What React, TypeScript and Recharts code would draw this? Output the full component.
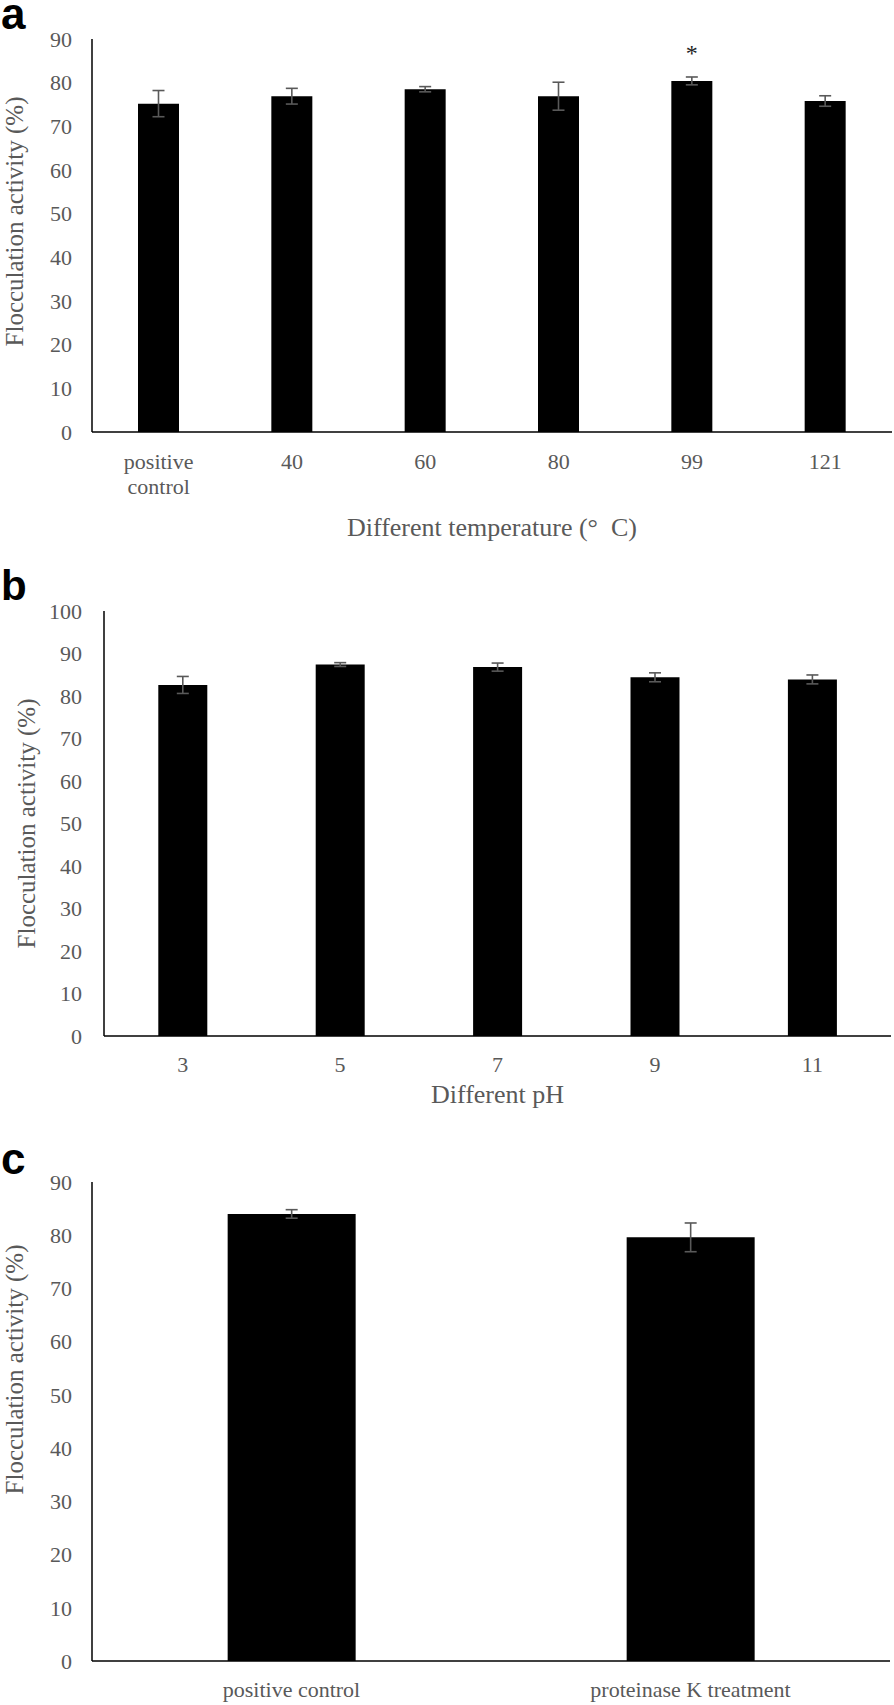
import React from 'react';
import { BarChart, Bar, XAxis, YAxis, ErrorBar, LabelList } from 'recharts';

// ---------- data ----------
const tempCategories = ['positive control', '40', '60', '80', '99', '121'];
const tempValues = [75.2, 76.9, 78.5, 76.9, 80.4, 75.8];
const tempErrors = [3.0, 1.8, 0.6, 3.2, 0.9, 1.2];
const tempSig = ['', '', '', '', '*', ''];
const tempTicks = [0, 10, 20, 30, 40, 50, 60, 70, 80, 90];

const phCategories = ['3', '5', '7', '9', '11'];
const phValues = [82.6, 87.4, 86.8, 84.4, 83.9];
const phErrors = [2.0, 0.45, 0.95, 1.05, 1.05];
const phTicks = [0, 10, 20, 30, 40, 50, 60, 70, 80, 90, 100];

const treatCategories = ['positive control', 'proteinase K treatment'];
const treatValues = [84.0, 79.6];
const treatErrors = [0.8, 2.7];
const treatTicks = [0, 10, 20, 30, 40, 50, 60, 70, 80, 90];

const yTitle = 'Flocculation activity (%)';
const tempTitle = 'Different temperature (\u00B0\u00A0\u00A0C)';
const phTitle = 'Different pH';

const tempData = tempCategories.map((c, i) => ({ cat: c, value: tempValues[i], err: tempErrors[i], sig: tempSig[i] }));
const phData = phCategories.map((c, i) => ({ cat: c, value: phValues[i], err: phErrors[i] }));
const treatData = treatCategories.map((c, i) => ({ cat: c, value: treatValues[i], err: treatErrors[i] }));

// ---------- styles ----------
const SERIF = '"Liberation Serif", "Times New Roman", serif';
const TEXT = '#595959';
const TICK_FS = 22;
const TITLE_FS = 25;

const yTickStyle = { fill: TEXT, fontSize: TICK_FS, fontFamily: SERIF };

const makeXTick = (multiLine: boolean, dy: number) => (props: any) => {
  const { x, y, payload } = props;
  const lines = multiLine ? String(payload.value).split(' ') : [String(payload.value)];
  return (
    <text x={x} y={y + dy} textAnchor="middle" fill={TEXT} fontSize={TICK_FS} fontFamily={SERIF}>
      {lines.map((l, i) => (
        <tspan key={i} x={x} dy={i === 0 ? 0 : 25}>{l}</tspan>
      ))}
    </text>
  );
};

// cx: horizontal centre of the rotated title; shift: offset of its centre from the plot's centre
const makeYTitle = (cx: number, shift: number) => (props: any) => {
  const vb = props.viewBox;
  const cy = vb.y + vb.height / 2 + shift;
  return (
    <text
      x={cx}
      y={cy}
      transform={`rotate(-90, ${cx}, ${cy})`}
      textAnchor="middle"
      dominantBaseline="central"
      fill={TEXT}
      fontSize={TITLE_FS}
      fontFamily={SERIF}
    >
      {yTitle}
    </text>
  );
};

const makeXTitle = (text: string, dy: number, fs: number) => (props: any) => {
  const vb = props.viewBox;
  return (
    <text x={vb.x + vb.width / 2} y={vb.y + dy} textAnchor="middle" fill={TEXT} fontSize={fs} fontFamily={SERIF}>
      {text}
    </text>
  );
};

const sigLabel = (props: any) => {
  const { x, y, width, value } = props;
  if (!value) return null;
  return (
    <text x={x + width / 2} y={y - 20} textAnchor="middle" fill="#222" fontSize={24} fontFamily={SERIF}>
      {value}
    </text>
  );
};

const axisLine = { stroke: '#000', strokeWidth: 1.5 };

export default function App() {
  return (
    <div style={{ position: 'absolute', left: 0, top: 0, width: 894, height: 1705, overflow: 'hidden', background: '#fff' }}>
      {/* panel a */}
      <div style={{ position: 'absolute', left: 0, top: 0 }}>
        <BarChart width={894} height={560} data={tempData} margin={{ top: 39, right: 2, bottom: 0, left: 0 }} barCategoryGap="34.5%">
          <XAxis
            dataKey="cat"
            height={128}
            axisLine={axisLine}
            tickLine={false}
            tickSize={0}
            tickMargin={0}
            interval={0}
            tick={makeXTick(true, 37)}
            label={makeXTitle(tempTitle, 104, 26)}
          />
          <YAxis
            width={92}
            domain={[0, 90]}
            ticks={tempTicks}
            axisLine={axisLine}
            tickLine={false}
            tickSize={0}
            tickMargin={20}
            tick={yTickStyle}
            label={makeYTitle(14, -14)}
          />
          <Bar dataKey="value" fill="#000" isAnimationActive={false}>
            <ErrorBar dataKey="err" width={6} stroke="#595959" strokeWidth={1.6} direction="y" />
            <LabelList dataKey="sig" content={sigLabel} />
          </Bar>
        </BarChart>
      </div>

      {/* panel b */}
      <div style={{ position: 'absolute', left: 0, top: 560 }}>
        <BarChart width={894} height={560} data={phData} margin={{ top: 51, right: 3, bottom: 0, left: 0 }} barCategoryGap="34.5%">
          <XAxis
            dataKey="cat"
            height={84}
            axisLine={axisLine}
            tickLine={false}
            tickSize={0}
            tickMargin={0}
            interval={0}
            tick={makeXTick(false, 36)}
            label={makeXTitle(phTitle, 67, 26)}
          />
          <YAxis
            width={104}
            domain={[0, 100]}
            ticks={phTicks}
            axisLine={axisLine}
            tickLine={false}
            tickSize={0}
            tickMargin={22}
            tick={yTickStyle}
            label={makeYTitle(26, 0)}
          />
          <Bar dataKey="value" fill="#000" isAnimationActive={false}>
            <ErrorBar dataKey="err" width={6} stroke="#595959" strokeWidth={1.6} direction="y" />
          </Bar>
        </BarChart>
      </div>

      {/* panel c */}
      <div style={{ position: 'absolute', left: 0, top: 1120 }}>
        <BarChart width={894} height={585} data={treatData} margin={{ top: 62, right: 4, bottom: 0, left: 0 }} barCategoryGap="34%">
          <XAxis
            dataKey="cat"
            height={44}
            axisLine={axisLine}
            tickLine={false}
            tickSize={0}
            tickMargin={0}
            interval={0}
            tick={makeXTick(false, 36)}
          />
          <YAxis
            width={92}
            domain={[0, 90]}
            ticks={treatTicks}
            axisLine={axisLine}
            tickLine={false}
            tickSize={0}
            tickMargin={20}
            tick={yTickStyle}
            label={makeYTitle(14, -52)}
          />
          <Bar dataKey="value" fill="#000" isAnimationActive={false}>
            <ErrorBar dataKey="err" width={6} stroke="#595959" strokeWidth={1.6} direction="y" />
          </Bar>
        </BarChart>
      </div>

      {/* panel letters */}
      <svg width={894} height={1705} style={{ position: 'absolute', left: 0, top: 0, pointerEvents: 'none' }}>
        <text x={1} y={29} fontSize={44} fontWeight="bold" fontFamily='"Liberation Sans", Arial, sans-serif' fill="#000">a</text>
        <text x={1} y={600} fontSize={42} fontWeight="bold" fontFamily='"Liberation Sans", Arial, sans-serif' fill="#000">b</text>
        <text x={1} y={1174} fontSize={44} fontWeight="bold" fontFamily='"Liberation Sans", Arial, sans-serif' fill="#000">c</text>
      </svg>
    </div>
  );
}
